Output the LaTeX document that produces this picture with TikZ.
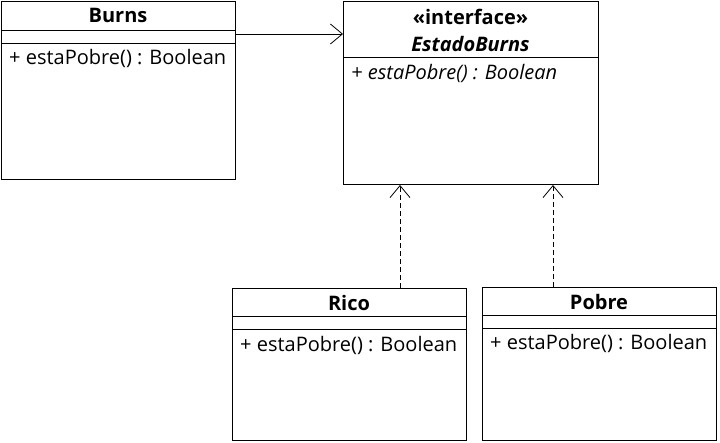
\documentclass[tikz,border=0pt]{standalone}
\usepackage{fontspec}
\setmainfont{Open Sans}
\usetikzlibrary{arrows.meta,positioning}
\tikzset{
  classbox/.style  = {shape=rectangle, draw, line width=1pt, anchor=north west,
                      inner sep=0pt, minimum width=234pt},
  classname/.style = {font=\bfseries\fontsize{20}{24}\selectfont, inner sep=0pt},
  member/.style    = {anchor=west, inner sep=0pt, font=\fontsize{20}{24}\selectfont},
  divider/.style   = {draw, line width=1pt},
  uses/.style      = {draw, line width=0.8pt, -{Straight Barb[length=12pt,width=20pt,line width=0.8pt]}},
  realizes/.style  = {uses, dashed, dash pattern=on 5pt off 3pt}
}

\begin{document}
\begin{tikzpicture}[x=1pt, y=-1pt]
  \useasboundingbox (0,0) rectangle (720,442);

  % the context
  \node [classbox, minimum height=178pt] (burns) at (1,1) {};
  \node [classname] (burnsname) at (118,15.5) {Burns};
  \draw [divider] (burns.west |- 0,30) -- (burns.east |- 0,30);
  \draw [divider] (burns.west |- 0,43) -- (burns.east |- 0,43);
  \node [member] (burnsop) at (9,58) {+ estaPobre() : Boolean};

  % the state interface
  \node [classbox, minimum width=255pt, minimum height=183pt] (iface) at (343,1) {};
  \node [classname, align=center] (ifacename) at (470.5,30)
    {«interface»\\[3pt]\textit{EstadoBurns}};
  \draw [divider] (iface.west |- 0,57) -- (iface.east |- 0,57);
  \node [member, font=\itshape\fontsize{20}{24}\selectfont] (ifaceop) at (351,73)
    {+ estaPobre() : Boolean};

  % concrete states
  \node [classbox, minimum height=152pt] (rico) at (232,288) {};
  \node [classname] (riconame) at (349,302.5) {Rico};
  \draw [divider] (rico.west |- 0,316) -- (rico.east |- 0,316);
  \draw [divider] (rico.west |- 0,329) -- (rico.east |- 0,329);
  \node [member] (ricoop) at (240,345) {+ estaPobre() : Boolean};

  \node [classbox, minimum height=153pt] (pobre) at (482,287) {};
  \node [classname] (pobrename) at (599,301.5) {Pobre};
  \draw [divider] (pobre.west |- 0,315) -- (pobre.east |- 0,315);
  \draw [divider] (pobre.west |- 0,328) -- (pobre.east |- 0,328);
  \node [member] (pobreop) at (490,343) {+ estaPobre() : Boolean};

  % relations
  \draw [uses] (burns.east |- 0,34) -- (iface.west |- 0,34);
  \draw [realizes] (rico.north -| 400,0) -- (iface.south -| 400,0);
  \draw [realizes] (pobre.north -| 553,0) -- (iface.south -| 553,0);
\end{tikzpicture}
\end{document}
